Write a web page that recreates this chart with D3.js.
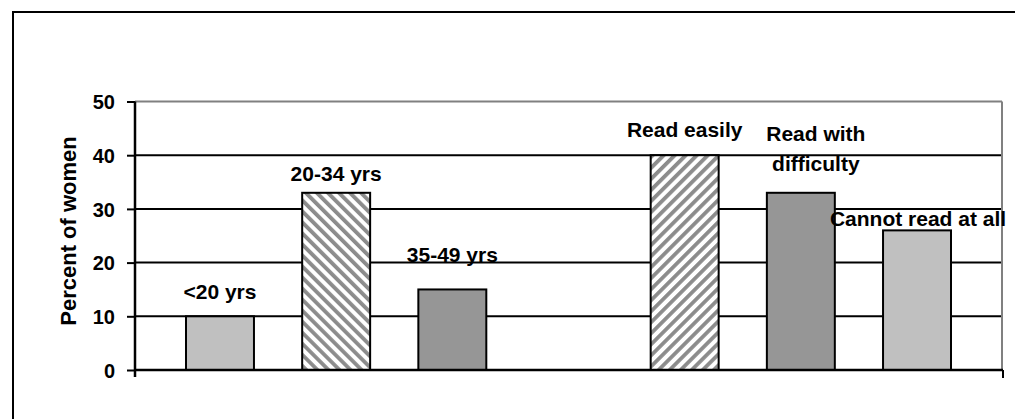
<!DOCTYPE html>
<html>
<head>
<meta charset="utf-8">
<script src="https://cdn.jsdelivr.net/npm/d3@7"></script>
<style>
  html, body { margin: 0; padding: 0; background: #fff; }
  svg { display: block; }
  text { font-family: "Liberation Sans", Arial, sans-serif; font-weight: bold; fill: #000; }
</style>
</head>
<body>
<script>
// Categories: age groups, a blank spacer, then reading ability
const categories = ["<20 yrs", "20-34 yrs", "35-49 yrs", "", "Read easily", "Read with difficulty", "Cannot read at all"];
const values = [10, 33, 15, null, 40, 33, 26];
const labelLines = [["<20 yrs"], ["20-34 yrs"], ["35-49 yrs"], [], ["Read easily"], ["Read with", "difficulty"], ["Cannot read at all"]];
const fills = ["light", "hatchBack", "dark", null, "hatchFwd", "dark", "light"];
const yTicks = [0, 10, 20, 30, 40, 50];

const W = 1015, H = 419;
const plotLeft = 135, plotRight = 1002, plotTop = 101.5, plotBottom = 370;

// label placement: gap (px) between the last label baseline and the bar top, and x nudge
const labelGap = [17, 12, 27, 0, 18, 22, 4];
const labelDx = [0, 0, 0, 0, 0, 15, 1];

const svg = d3.select("body").append("svg").attr("width", W).attr("height", H);

const defs = svg.append("defs");
function hatch(id, angle) {
  const p = defs.append("pattern")
    .attr("id", id)
    .attr("patternUnits", "userSpaceOnUse")
    .attr("width", 7.8).attr("height", 7.8)
    .attr("patternTransform", `rotate(${angle})`);
  p.append("rect").attr("width", 7.8).attr("height", 7.8).attr("fill", "#fff");
  p.append("rect").attr("x", 0).attr("width", 3.8).attr("height", 7.8).attr("fill", "#8c8c8c");
}
hatch("hatchBack", -45);
hatch("hatchFwd", 45);
const fillColor = { light: "#c0c0c0", dark: "#969696", hatchBack: "url(#hatchBack)", hatchFwd: "url(#hatchFwd)" };

// outer chart frame (cropped at right and bottom)
svg.append("line").attr("x1", 13).attr("x2", 13).attr("y1", 11).attr("y2", H).attr("stroke", "#000").attr("stroke-width", 2);
svg.append("line").attr("x1", 12).attr("x2", W).attr("y1", 12).attr("y2", 12).attr("stroke", "#000").attr("stroke-width", 2);

const x = d3.scaleBand()
  .domain(d3.range(categories.length))
  .range([plotLeft, plotRight])
  .paddingInner(0.415)
  .paddingOuter(0.439);

const y = d3.scaleLinear().domain([0, 50]).range([plotBottom, plotTop]);

// gridlines
svg.append("g").selectAll("line")
  .data(yTicks.filter(t => t > 0))
  .join("line")
  .attr("x1", plotLeft).attr("x2", plotRight)
  .attr("y1", d => y(d)).attr("y2", d => y(d))
  .attr("stroke", d => d === 50 ? "#808080" : "#000")
  .attr("stroke-width", 2);

// plot area right border
svg.append("line").attr("x1", plotRight).attr("x2", plotRight).attr("y1", y(50)).attr("y2", y(0))
  .attr("stroke", "#808080").attr("stroke-width", 2);

// bars
const idx = d3.range(categories.length).filter(i => values[i] != null);
svg.append("g").selectAll("rect")
  .data(idx)
  .join("rect")
  .attr("x", i => x(i))
  .attr("width", x.bandwidth())
  .attr("y", i => y(values[i]))
  .attr("height", i => y(0) - y(values[i]))
  .attr("fill", i => fillColor[fills[i]])
  .attr("stroke", "#000")
  .attr("stroke-width", 2);

// y axis
const yAxis = svg.append("g")
  .attr("transform", `translate(${plotLeft},0)`)
  .call(d3.axisLeft(y).tickValues(yTicks).tickSize(8).tickPadding(12));
yAxis.select(".domain").attr("d", `M0,${y(50)}V${plotBottom + 7}`).attr("stroke", "#000").attr("stroke-width", 2.5);
yAxis.selectAll(".tick line").attr("stroke", "#000").attr("stroke-width", 2);
yAxis.selectAll(".tick text").style("font-size", "20px").attr("dy", "0.36em");

// x axis line with end ticks
svg.append("line").attr("x1", plotLeft).attr("x2", plotRight + 1).attr("y1", plotBottom).attr("y2", plotBottom)
  .attr("stroke", "#000").attr("stroke-width", 2.5);
svg.append("line").attr("x1", plotRight + 1).attr("x2", plotRight + 1).attr("y1", plotBottom).attr("y2", plotBottom + 8)
  .attr("stroke", "#000").attr("stroke-width", 2);

// bar labels
const lbl = svg.append("g").style("font-size", "21px").attr("text-anchor", "middle");
idx.forEach(i => {
  const lines = labelLines[i];
  const baseY = y(values[i]) - labelGap[i];
  const cx = x(i) + x.bandwidth() / 2 + labelDx[i];
  lines.forEach((ln, k) => {
    lbl.append("text")
      .attr("x", cx)
      .attr("y", baseY - (lines.length - 1 - k) * 29.5)
      .text(ln);
  });
});

// y axis title
svg.append("text")
  .attr("transform", `translate(76,231) rotate(-90)`)
  .attr("text-anchor", "middle")
  .style("font-size", "22px")
  .text("Percent of women");
</script>
</body>
</html>
